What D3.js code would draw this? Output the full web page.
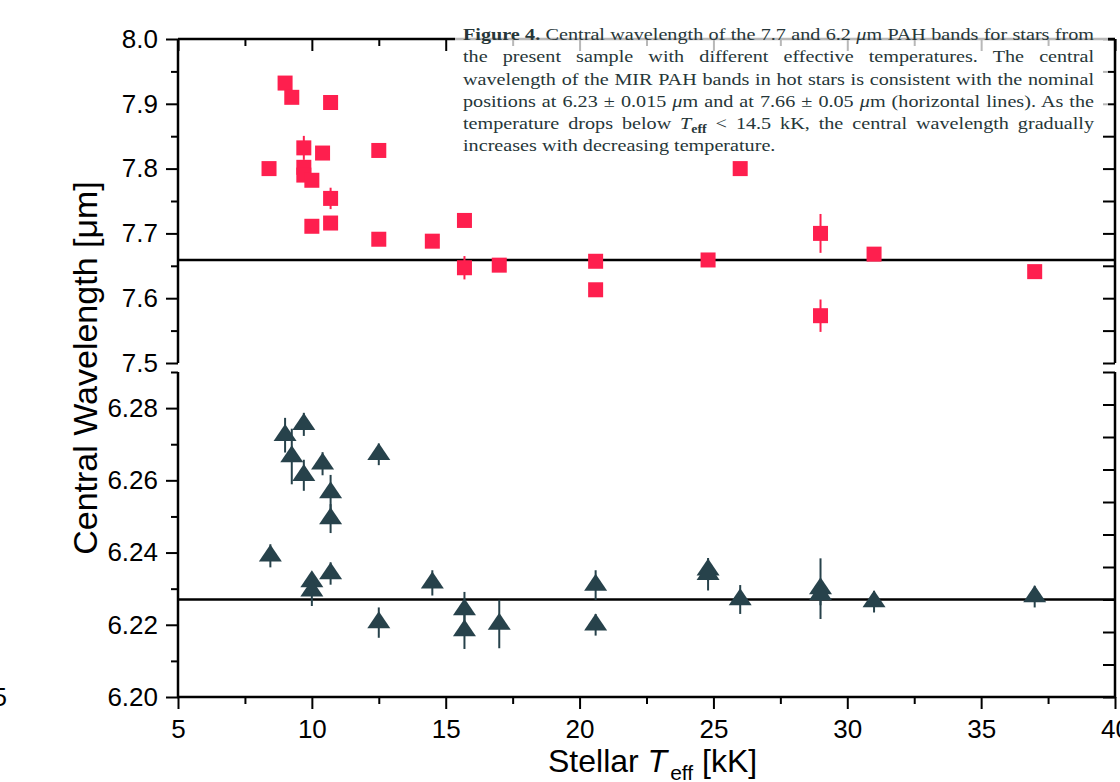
<!DOCTYPE html>
<html>
<head>
<meta charset="utf-8">
<script src="https://cdn.jsdelivr.net/npm/d3@7"></script>
<style>
  body { margin: 0; background: #fff; }
  svg { display: block; font-family: "Liberation Sans", Arial, sans-serif; }
  .cap { font-family: "Liberation Serif", "Times New Roman", serif; font-size: 17.5px; fill: #263638; }
</style>
</head>
<body>
<div id="chart"></div>
<script>
// upper panel: 7.7 um band (red squares)
var tempUp = [8.4, 9.0, 9.25, 9.7, 9.7, 9.7, 10.0, 10.0, 10.4, 10.7, 10.7, 10.7, 12.5, 12.5, 14.5, 15.7, 15.7, 17.0, 20.6, 20.6, 24.8, 26.0, 29.0, 29.0, 31.0, 37.0];
var waveUp = [7.800, 7.932, 7.910, 7.832, 7.802, 7.790, 7.782, 7.711, 7.824, 7.902, 7.754, 7.716, 7.828, 7.691, 7.688, 7.720, 7.647, 7.651, 7.657, 7.613, 7.659, 7.800, 7.700, 7.573, 7.668, 7.641];
var errUp  = [0.008, 0.008, 0.008, 0.0185, 0.008, 0.008, 0.008, 0.008, 0.008, 0.008, 0.0165, 0.008, 0.008, 0.008, 0.008, 0.008, 0.018, 0.008, 0.008, 0.008, 0.008, 0.008, 0.030, 0.025, 0.008, 0.008];

// lower panel: 6.2 um band (dark triangles)
var tempLo = [8.45, 9.0, 9.7, 9.25, 9.7, 10.4, 10.7, 10.7, 12.5, 10.0, 10.0, 10.7, 12.5, 14.5, 15.7, 15.7, 17.0, 20.6, 20.6, 24.8, 24.8, 26.0, 29.0, 29.0, 31.0, 37.0];
var waveLo = [6.2391, 6.2725, 6.2755, 6.2666, 6.2614, 6.2646, 6.2566, 6.2494, 6.2672, 6.2320, 6.2294, 6.2342, 6.2206, 6.2316, 6.2242, 6.2184, 6.2202, 6.2310, 6.2200, 6.2352, 6.2340, 6.2270, 6.2300, 6.2284, 6.2264, 6.2278];
var errLo  = [0.0032, 0.0048, 0.0032, 0.0077, 0.0043, 0.0032, 0.0049, 0.0040, 0.0030, 0.0020, 0.0042, 0.0031, 0.0042, 0.0035, 0.0049, 0.0051, 0.0067, 0.0041, 0.0030, 0.0030, 0.0045, 0.0040, 0.0084, 0.0030, 0.0030, 0.0030];

// nominal positions (horizontal lines)
var nominalUp = 7.659;
var nominalLo = 6.227;

// ticks
var xTicks = [5, 10, 15, 20, 25, 30, 35, 40];
var xMinor = [7.5, 12.5, 17.5, 22.5, 27.5, 32.5, 37.5];
var upTicks = [7.5, 7.6, 7.7, 7.8, 7.9, 8.0];
var upMinor = [7.55, 7.65, 7.75, 7.85, 7.95];
var loTicks = [6.20, 6.22, 6.24, 6.26, 6.28];
var loMinor = [6.21, 6.23, 6.25, 6.27, 6.29];

var captionLines = [
  [["b", "Figure 4."], ["n", " Central wavelength of the 7.7 and 6.2 "], ["i", "\u03bc"], ["n", "m PAH bands for stars from"]],
  [["n", "the present sample with different effective temperatures. The central"]],
  [["n", "wavelength of the MIR PAH bands in hot stars is consistent with the nominal"]],
  [["n", "positions at 6.23 \u00b1 0.015 "], ["i", "\u03bc"], ["n", "m and at 7.66 \u00b1 0.05 "], ["i", "\u03bc"], ["n", "m (horizontal lines). As the"]],
  [["n", "temperature drops below "], ["i", "T"], ["s", "eff"], ["n", " < 14.5 kK, the central wavelength gradually"]],
  [["n", "increases with decreasing temperature."]]
];

var red = "#fe1f4e", slate = "#27424b";

var svg = d3.select("#chart").append("svg")
    .attr("width", 1120)
    .attr("height", 782);

var x = d3.scaleLinear().domain([5, 40]).range([178, 1115]);
var yUp = d3.scaleLinear().domain([7.5, 8.0]).range([363, 39]);
var yLo = d3.scaleLinear().domain([6.20, 6.29]).range([697, 372]);
// right-hand axes carry ten even divisions per panel
var divUp = d3.scaleLinear().domain([0, 10]).range([363, 39]);
var divLo = d3.scaleLinear().domain([0, 10]).range([697, 372]);

function styleAxis(g) {
  g.attr("font-family", null).attr("font-size", null);
  g.select(".domain").remove();
  g.selectAll("line").attr("stroke", "#000").attr("stroke-width", 2);
  g.selectAll("text").attr("fill", "#000").style("font-size", "26px")
    .style("font-family", "'Liberation Sans', Arial, sans-serif");
}

// left axes
svg.append("g").attr("transform", "translate(178,0)")
  .call(d3.axisLeft(yUp).tickValues(upTicks).tickSize(12).tickPadding(8).tickFormat(d3.format(".1f")))
  .call(styleAxis);
svg.append("g").attr("transform", "translate(178,0)")
  .call(d3.axisLeft(yUp).tickValues(upMinor).tickSize(7).tickFormat(""))
  .call(styleAxis);
svg.append("g").attr("transform", "translate(178,0)")
  .call(d3.axisLeft(yLo).tickValues(loTicks).tickSize(12).tickPadding(8).tickFormat(d3.format(".2f")))
  .call(styleAxis);
svg.append("g").attr("transform", "translate(178,0)")
  .call(d3.axisLeft(yLo).tickValues(loMinor).tickSize(7).tickFormat(""))
  .call(styleAxis);

// bottom axis
svg.append("g").attr("transform", "translate(0,697)")
  .call(d3.axisBottom(x).tickValues(xTicks).tickSize(12).tickPadding(11))
  .call(styleAxis);
svg.append("g").attr("transform", "translate(0,697)")
  .call(d3.axisBottom(x).tickValues(xMinor).tickSize(7).tickFormat(""))
  .call(styleAxis);

// top axis, ticks inward
svg.append("g").attr("transform", "translate(0,39)")
  .call(d3.axisTop(x).tickValues(xTicks).tickSize(-12).tickFormat(""))
  .call(styleAxis);
svg.append("g").attr("transform", "translate(0,39)")
  .call(d3.axisTop(x).tickValues(xMinor).tickSize(-7).tickFormat(""))
  .call(styleAxis);

// right axes, ticks inward
svg.append("g").attr("transform", "translate(1115,0)")
  .call(d3.axisRight(divUp).ticks(10).tickSize(-12).tickFormat(""))
  .call(styleAxis);
svg.append("g").attr("transform", "translate(1115,0)")
  .call(d3.axisRight(divLo).ticks(10).tickSize(-12).tickFormat(""))
  .call(styleAxis);

// frame lines
var frame = svg.append("g").attr("stroke", "#000").attr("stroke-width", 2.5).attr("fill", "none");
frame.append("line").attr("x1", x(5)).attr("x2", x(5)).attr("y1", yUp(8.0)).attr("y2", yUp(7.5));
frame.append("line").attr("x1", x(5)).attr("x2", x(5)).attr("y1", yLo(6.29)).attr("y2", yLo(6.20) + 1);
frame.append("line").attr("x1", x(40)).attr("x2", x(40)).attr("y1", yUp(8.0)).attr("y2", yUp(7.5));
frame.append("line").attr("x1", x(40)).attr("x2", x(40)).attr("y1", yLo(6.29)).attr("y2", yLo(6.20) + 1);
frame.append("line").attr("x1", x(5)).attr("x2", x(40)).attr("y1", yUp(8.0)).attr("y2", yUp(8.0));
frame.append("line").attr("x1", x(5) - 1).attr("x2", x(40) + 1).attr("y1", yLo(6.20)).attr("y2", yLo(6.20));

// nominal lines
frame.append("line").attr("x1", x(5)).attr("x2", x(40)).attr("y1", yUp(nominalUp)).attr("y2", yUp(nominalUp));
frame.append("line").attr("x1", x(5)).attr("x2", x(40)).attr("y1", yLo(nominalLo)).attr("y2", yLo(nominalLo));

// caption panel (semi-transparent, the axis shows through)
svg.append("rect").attr("x", 455).attr("y", 22).attr("width", 653).attr("height", 110)
  .attr("fill", "#fff").attr("fill-opacity", 0.72);

var up = d3.range(tempUp.length).map(function(i) { return {t: tempUp[i], w: waveUp[i], e: errUp[i]}; });
var lo = d3.range(tempLo.length).map(function(i) { return {t: tempLo[i], w: waveLo[i], e: errLo[i]}; });

// upper data
svg.append("g").selectAll("line").data(up).enter().append("line")
  .attr("x1", function(d) { return x(d.t); }).attr("x2", function(d) { return x(d.t); })
  .attr("y1", function(d) { return yUp(d.w + d.e); }).attr("y2", function(d) { return yUp(d.w - d.e); })
  .attr("stroke", red).attr("stroke-width", 2);
svg.append("g").selectAll("rect").data(up).enter().append("rect")
  .attr("x", function(d) { return x(d.t) - 7.5; }).attr("y", function(d) { return yUp(d.w) - 7.5; })
  .attr("width", 15).attr("height", 15).attr("fill", red);

// lower data
svg.append("g").selectAll("line").data(lo).enter().append("line")
  .attr("x1", function(d) { return x(d.t); }).attr("x2", function(d) { return x(d.t); })
  .attr("y1", function(d) { return yLo(d.w + d.e); }).attr("y2", function(d) { return yLo(d.w - d.e); })
  .attr("stroke", slate).attr("stroke-width", 2);
svg.append("g").selectAll("path").data(lo).enter().append("path")
  .attr("d", "M0,-11.3L11.5,5.7L-11.5,5.7Z")
  .attr("transform", function(d) { return "translate(" + x(d.t) + "," + yLo(d.w) + ")"; })
  .attr("fill", slate);

// axis titles
svg.append("text")
  .attr("transform", "translate(97,368) rotate(-90)")
  .attr("text-anchor", "middle")
  .style("font-size", "34px")
  .text("Central Wavelength [\u03bcm]");

var xt = svg.append("text").attr("x", 548).attr("y", 772).style("font-size", "32px");
xt.append("tspan").text("Stellar ");
xt.append("tspan").style("font-style", "italic").text("T");
xt.append("tspan").attr("dy", 8).attr("dx", 3).style("font-size", "21px").text("eff");
xt.append("tspan").attr("dy", -8).text(" [kK]");

// clipped label at the left edge
svg.append("text").attr("x", 7).attr("y", 706).attr("text-anchor", "end")
  .style("font-size", "26px").text("5");

// caption: stretched horizontally to the reference width, then justified
var capW = 631;
var cap = svg.append("g");
var texts = captionLines.map(function(line, li) {
  var t = cap.append("text").attr("class", "cap").attr("x", 0).attr("y", 40 + li * 22.3);
  var prev = null;
  line.forEach(function(seg) {
    var s = t.append("tspan").text(seg[1]);
    if (seg[0] === "b") s.style("font-weight", "bold");
    if (seg[0] === "i") s.style("font-style", "italic");
    if (seg[0] === "s") s.attr("dy", 4).style("font-size", "12px").style("font-weight", "bold");
    if (prev === "s") s.attr("dy", -4);
    prev = seg[0];
  });
  return t;
});
var widest = d3.max(texts, function(t) { return t.node().getComputedTextLength(); });
var sx = (capW - 4) / widest;
cap.attr("transform", "translate(463,0) scale(" + sx + ",1)");
texts.forEach(function(t, li) {
  if (li === texts.length - 1) return;
  var natural = t.node().getComputedTextLength();
  var spaces = t.text().replace(/\s+/g, " ").trim().split(" ").length - 1;
  t.style("word-spacing", ((capW / sx - natural) / spaces) + "px");
});
</script>
</body>
</html>
